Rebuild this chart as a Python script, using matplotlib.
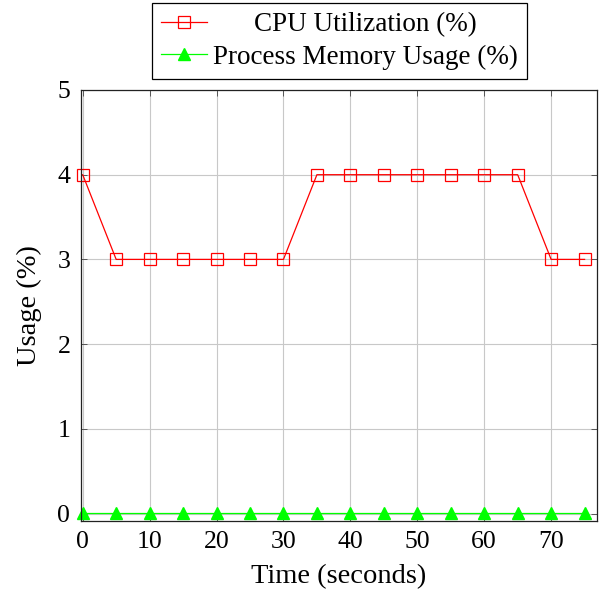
import matplotlib
matplotlib.use("Agg")
import matplotlib.pyplot as plt

time_s = [0, 5, 10, 15, 20, 25, 30, 35, 40, 45, 50, 55, 60, 65, 70, 75]
cpu_util = [4, 3, 3, 3, 3, 3, 3, 4, 4, 4, 4, 4, 4, 4, 3, 3]
mem_usage = [0.01] * 16
x_ticks = [0, 10, 20, 30, 40, 50, 60, 70]
y_ticks = [0, 1, 2, 3, 4, 5]

plt.rcParams['font.family'] = ['Liberation Serif', 'DejaVu Serif']
plt.rcParams['mathtext.fontset'] = 'stix'
FS_TICK = 18.5
FS_LAB = 20.5
FS_LEG = 19.5

fig = plt.figure(figsize=(6.08, 5.93), dpi=100)
ax = fig.add_axes([80.7/608, 1-520.7/593, (597.3-80.7)/608, (520.7-90)/593])

ax.plot(time_s, cpu_util, color='red', lw=0.9, marker='s', ms=8,
        mfc='none', mec='red', mew=0.9, label='CPU Utilization (%)', clip_on=False)
ax.plot(time_s, mem_usage, color='#00ff00', lw=0.9, marker='^', ms=8,
        mfc='#00ff00', mec='#00ff00', label='Process Memory Usage (%)', clip_on=False)

ax.set_xlim(-0.3, 76.9)
ax.set_ylim(-0.085, 5)
ax.set_xticks(x_ticks)
ax.set_yticks(y_ticks)
ax.grid(True, color='#c8c8c8', lw=0.8)
ax.set_axisbelow(True)
ax.tick_params(direction='in', length=4, width=0.6, color='#444444', labelsize=FS_TICK,
               top=True, right=True)
ax.tick_params(axis='x', pad=7.5)
ax.tick_params(axis='y', pad=7.5)
for s in ax.spines.values():
    s.set_linewidth(0.9)
    s.set_color('#222222')
ax.set_xlabel('Time (seconds)', fontsize=FS_LAB, labelpad=8)
ax.set_ylabel('Usage (%)', fontsize=FS_LAB, labelpad=11)

leg = fig.legend(loc='lower center', bbox_to_anchor=(339.5/608, 1-79/593),
                 fontsize=FS_LEG, frameon=True, fancybox=False, framealpha=1,
                 edgecolor='black', borderaxespad=0, handlelength=1.7,
                 handletextpad=0.22, borderpad=0.35, labelspacing=0.26)
leg.get_frame().set_linewidth(0.9)

fig.canvas.draw()
r = fig.canvas.get_renderer()
texts = leg.get_texts()
widths = [t.get_window_extent(r).width for t in texts]
wmax = max(widths)
for t, w in zip(texts, widths):
    t.set_x((wmax - w) / 2)

fig.savefig('out.png', dpi=100)
